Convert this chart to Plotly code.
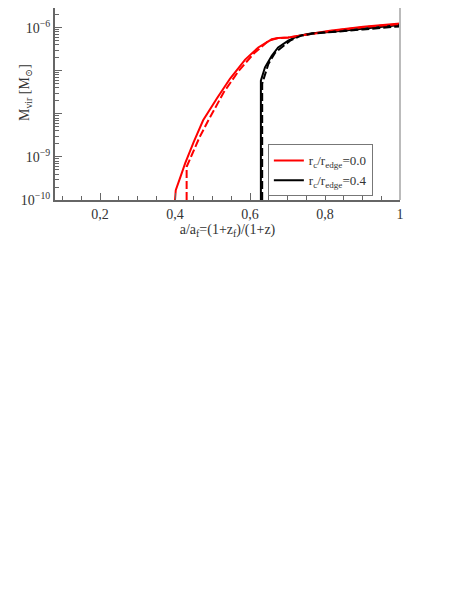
import numpy as np
import plotly.graph_objects as go

# a/a_f values and log10(M_vir)
red_solid_x = [0.400, 0.402, 0.415, 0.427, 0.450, 0.475, 0.512, 0.547, 0.587, 0.622, 0.658, 0.675, 0.702, 0.729, 0.765, 0.813, 0.902, 1.000]
red_solid_y = [-10.0, -9.77, -9.45, -9.15, -8.65, -8.15, -7.64, -7.18, -6.74, -6.46, -6.27, -6.24, -6.23, -6.19, -6.14, -6.07, -5.98, -5.905]

red_dash_x = [0.431, 0.431, 0.445, 0.465, 0.489, 0.530, 0.570, 0.610, 0.650, 0.675, 0.702, 0.729, 0.765, 0.813, 0.902, 1.000]
red_dash_y = [-10.0, -9.23, -8.95, -8.55, -8.15, -7.50, -7.00, -6.60, -6.30, -6.24, -6.23, -6.19, -6.14, -6.08, -5.99, -5.915]

black_solid_x = [0.629, 0.629, 0.640, 0.658, 0.675, 0.702, 0.729, 0.765, 0.813, 0.901, 1.000]
black_solid_y = [-10.0, -7.23, -6.92, -6.65, -6.46, -6.30, -6.19, -6.13, -6.10, -6.02, -5.94]

black_dash_x = [0.6325, 0.6325, 0.649, 0.667, 0.707, 0.735, 0.765, 0.813, 0.901, 1.000]
black_dash_y = [-10.0, -7.30, -6.84, -6.58, -6.30, -6.19, -6.14, -6.11, -6.04, -5.97]

x_ticks = [0.2, 0.4, 0.6, 0.8, 1.0]
x_ticktext = ["0,2", "0,4", "0,6", "0,8", "1"]
y_decades = [-10, -9, -8, -7, -6]
y_ticktext = ["10<sup>\u221210</sup>", "10<sup>\u22129</sup>", "", "", "10<sup>\u22126</sup>"]

RED = "#ff0000"
BLACK = "#000000"
FONT = "Liberation Serif, DejaVu Serif, serif"

fig = go.Figure()

fig.add_trace(go.Scatter(x=red_solid_x, y=10 ** np.array(red_solid_y), mode="lines",
                         line=dict(color=RED, width=2), name="r<sub>c</sub>/r<sub>edge</sub>=0.0"))
fig.add_trace(go.Scatter(x=black_solid_x, y=10 ** np.array(black_solid_y), mode="lines",
                         line=dict(color=BLACK, width=2), name="r<sub>c</sub>/r<sub>edge</sub>=0.4"))
fig.add_trace(go.Scatter(x=red_dash_x, y=10 ** np.array(red_dash_y), mode="lines",
                         line=dict(color=RED, width=2, dash="8px,3px"), showlegend=False))
fig.add_trace(go.Scatter(x=black_dash_x, y=10 ** np.array(black_dash_y), mode="lines",
                         line=dict(color=BLACK, width=2, dash="8px,3px"), showlegend=False))

minor_y = [m * 10.0 ** k for k in range(-10, -5) for m in range(2, 10)]

# page body has an 8px margin, so the figure is a bit smaller and shifted
fig.update_layout(
    width=455, height=591,
    margin=dict(l=47, r=63, t=0, b=399),
    paper_bgcolor="white", plot_bgcolor="white",
    font=dict(family=FONT, size=14, color="#333333"),
    showlegend=True,
    legend=dict(x=0.617, y=0.154, xanchor="left", yanchor="middle",
                bordercolor="#777777", borderwidth=1, bgcolor="white",
                font=dict(family=FONT, size=13, color="#333333"),
                itemwidth=30, tracegroupgap=0),
)

fig.update_xaxes(
    range=[0.08, 1.0], showgrid=False, zeroline=False, automargin=False,
    showline=True, linecolor="#666666", linewidth=2,
    tickmode="array", tickvals=x_ticks, ticktext=x_ticktext,
    ticks="inside", ticklen=7, tickcolor="#666666",
    minor=dict(ticks="inside", ticklen=4, dtick=0.05, tick0=0, tickcolor="#666666"),
    title=dict(text="a/a<sub>f</sub>=(1+z<sub>f</sub>)/(1+z)", standoff=2,
               font=dict(family=FONT, size=14)),
    tickfont=dict(family=FONT, size=14),
)
fig.update_yaxes(
    type="log", range=[-10, -5.543], showgrid=False, zeroline=False, automargin=False,
    showline=True, linecolor="#666666", linewidth=2,
    tickmode="array", tickvals=[10.0 ** d for d in y_decades], ticktext=y_ticktext,
    ticks="inside", ticklen=7, tickcolor="#666666",
    minor=dict(ticks="inside", ticklen=4, tickvals=minor_y, tickcolor="#666666"),
    tickfont=dict(family=FONT, size=14),
)

fig.add_annotation(text="M<sub>vir</sub> [M<sub>\u2299</sub>]", textangle=-90,
                   xref="paper", yref="paper", x=-0.087, y=0.5625,
                   xanchor="center", yanchor="middle",
                   showarrow=False, font=dict(family=FONT, size=14, color="#333333"))

# light right-hand frame line
fig.add_shape(type="line", xref="paper", yref="paper", x0=1, x1=1, y0=0, y1=1,
              line=dict(color="#bbbbbb", width=2))

fig.write_html("out.html")
